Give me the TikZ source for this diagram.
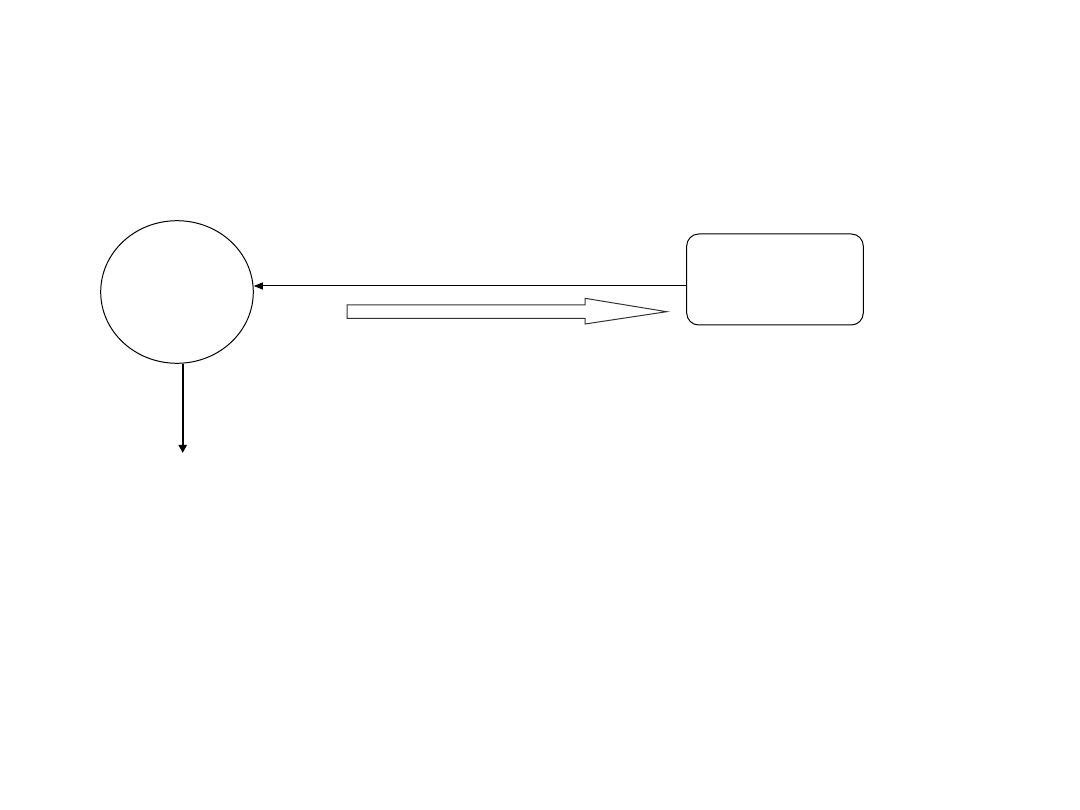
\documentclass[tikz,border=0pt]{standalone}
\usetikzlibrary{shapes.geometric,arrows.meta}
\begin{document}
\begin{tikzpicture}[x=1pt,y=-1pt,
  thinline/.style={draw=black,line width=1pt},
  conn/.style={thinline,-{Triangle[length=9pt,width=7pt]}},
  thickconn/.style={draw=black,line width=2pt,-{Triangle[length=8pt,width=8pt]}},
  circ/.style={thinline,ellipse,minimum width=152.6pt,minimum height=142.6pt,inner sep=0pt},
  rbox/.style={thinline,rounded corners=12pt,minimum width=176.6pt,minimum height=91pt,inner sep=0pt},
  blockarrow/.style={draw=black!80,line width=1pt,fill=white,line join=miter}]
\useasboundingbox (0,0) rectangle (1080,810);
\node[circ] (c) at (177,292) {};
\node[rbox] (r) at (775,279.5) {};
\coordinate (down) at (182.7,453);
\draw[conn] (r.west |- 0,286) -- (c.east |- 0,286);
\draw[thickconn] (c.south -| down) -- (down);
\draw[blockarrow] (347,305) -- (585,305) -- (585,298.3) -- (666.7,311.7) -- (585,324) -- (585,318.3) -- (347,318.3) -- cycle;
\end{tikzpicture}
\end{document}
